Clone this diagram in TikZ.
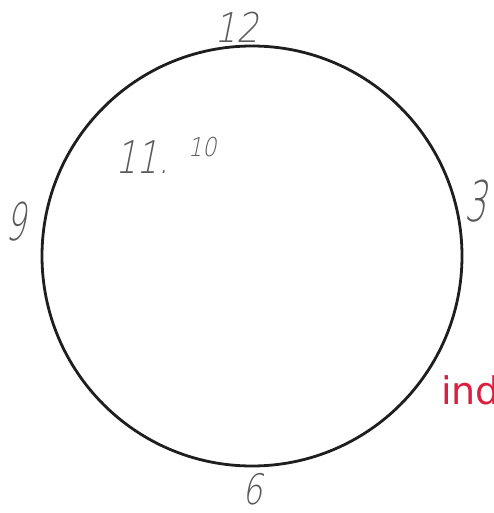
\documentclass[tikz,border=0pt]{standalone}
\usepackage{fontspec}
\newfontfamily\hand{DejaVu Sans ExtraLight}[FakeSlant=0.2]
\definecolor{pen}{RGB}{30,30,30}
\definecolor{redpen}{RGB}{222,30,62}
\definecolor{pencil}{RGB}{90,90,90}
\begin{document}
\begin{tikzpicture}[x=1pt,y=-1pt,
  digit/.style={text=pencil, inner sep=0pt, anchor=base west}]
\useasboundingbox (0,0) rectangle (493,513);
\clip (0,0) rectangle (493,513);
\node[draw=pen, line width=2.8pt, circle, minimum size=420pt, inner sep=0pt] (clock) at (252,256) {};
\node[digit, font=\hand\fontsize{41}{41}\selectfont\addfontfeature{FakeStretch=0.85}] (twelve) at (214,43) {12};
\node[digit, font=\hand\fontsize{45}{45}\selectfont\addfontfeature{FakeStretch=0.75}] (time) at (115,173) {11.};
\node[digit, font=\hand\fontsize{26}{26}\selectfont\addfontfeature{FakeStretch=0.85}] (mins) at (188,157) {10};
\node[digit, font=\hand\fontsize{52}{52}\selectfont\addfontfeature{FakeStretch=0.6}] (nine) at (5,240) {9};
\node[digit, font=\hand\fontsize{56}{56}\selectfont\addfontfeature{FakeStretch=0.6}] (three) at (464,221) {3};
\node[digit, font=\hand\fontsize{42}{42}\selectfont\addfontfeature{FakeStretch=0.75}] (six) at (242,504) {6};
\node[anchor=base west, inner sep=0pt, text=redpen, font=\fontspec{DejaVu Sans}\fontsize{38}{38}\selectfont] (ind) at (441,404) {ind};
\end{tikzpicture}
\end{document}
